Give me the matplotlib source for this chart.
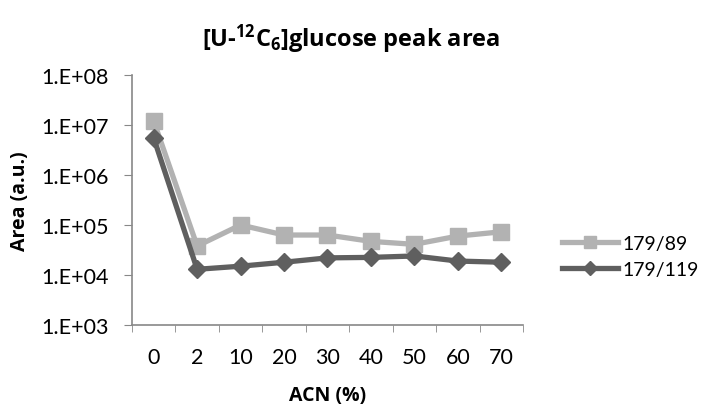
import matplotlib
matplotlib.use("Agg")
import matplotlib.pyplot as plt
from matplotlib.ticker import FixedLocator, NullLocator
from matplotlib.lines import Line2D
import numpy as np

categories = ["0", "2", "10", "20", "30", "40", "50", "60", "70"]
s89 = [1.2e7, 3.8e4, 1.0e5, 6.3e4, 6.3e4, 4.7e4, 4.1e4, 6.0e4, 7.3e4]
s119 = [5.5e6, 1.3e4, 1.5e4, 1.8e4, 2.2e4, 2.25e4, 2.4e4, 1.9e4, 1.8e4]
yticks = [1e3, 1e4, 1e5, 1e6, 1e7, 1e8]
ytick_labels = ["1.E+03", "1.E+04", "1.E+05", "1.E+06", "1.E+07", "1.E+08"]

plt.rcParams['font.family'] = ['Lato', 'DejaVu Sans']
plt.rcParams['mathtext.fontset'] = 'custom'
plt.rcParams['mathtext.rm'] = 'Open Sans'
plt.rcParams['mathtext.bf'] = 'Open Sans:bold'
BOLD = ['Open Sans', 'DejaVu Sans']

fig = plt.figure(figsize=(7.02, 4.06), dpi=100)
ax = fig.add_axes([0.188, 0.197, 0.557, 0.616])

c89 = "#b2b2b2"
c119 = "#5f5f5f"
x = np.arange(len(categories))
ax.plot(x, s89, color=c89, lw=3.8, marker="s", ms=11, zorder=2)
ax.plot(x, s119, color=c119, lw=3.8, marker="D", ms=9.5, zorder=3)

ax.set_yscale("log")
ax.set_ylim(1e3, 1e8)
ax.set_xlim(-0.5, len(categories) - 0.5)
ax.yaxis.set_major_locator(FixedLocator(yticks))
ax.yaxis.set_minor_locator(NullLocator())
ax.set_yticklabels(ytick_labels)
ax.set_xticks(x)
ax.set_xticklabels(categories)
ax.set_xticks(np.arange(-0.5, len(categories)), minor=True)
fs = 15.5
ax.tick_params(axis="x", which="major", length=0, pad=16, labelsize=fs, colors="#000000")
ax.tick_params(axis="x", which="minor", length=5, direction="out", color="#888888")
ax.tick_params(axis="y", which="major", length=6, direction="out", color="#888888", labelsize=fs, pad=11)

for s in ["top", "right"]:
    ax.spines[s].set_visible(False)
for s in ["left", "bottom"]:
    ax.spines[s].set_color("#888888")
    ax.spines[s].set_linewidth(1.2)

ax.set_xlabel("ACN (%)", fontsize=14, fontweight="bold", family=BOLD, labelpad=13)
ax.set_ylabel("Area (a.u.)", fontsize=14, fontweight="bold", family=BOLD, labelpad=8)
fig.text(0.5, 0.902, r"[U-$\mathbf{^{12}}$C$\mathbf{_6}$]glucose peak area", ha="center", va="center",
         fontsize=17, fontweight="bold", family=BOLD)

handles = [Line2D([], [], color=c89, lw=3.8, marker="s", ms=8),
           Line2D([], [], color=c119, lw=3.8, marker="D", ms=7)]
leg = ax.legend(handles, ["179/89", "179/119"], loc="center left", bbox_to_anchor=(1.1, 0.275),
                frameon=False, fontsize=14, handlelength=2.9, labelspacing=0.45, handletextpad=0.2,
                borderaxespad=0, borderpad=0)

fig.savefig("out.png", dpi=100)
